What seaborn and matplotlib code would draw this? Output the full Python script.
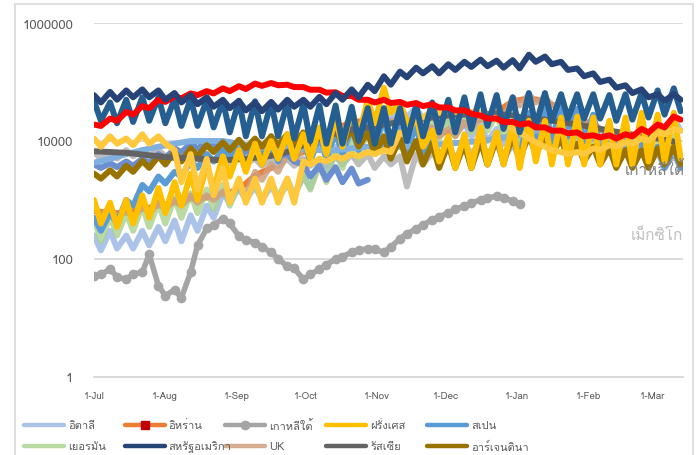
import numpy as np
import pandas as pd
import seaborn as sns
import matplotlib.pyplot as plt
import matplotlib.dates as mdates
from matplotlib import font_manager
from matplotlib.ft2font import FT2Font
from matplotlib.lines import Line2D
from matplotlib.patches import Rectangle
from matplotlib.ticker import FixedLocator, FixedFormatter, NullLocator

# daily new cases, in thousands (korea in plain cases)
# *_hi = value at the start of each week, *_lo = value three days later
weeks = pd.date_range('2020-07-01', periods=37, freq='7D')

us_hi = [60, 68, 72, 75, 72, 65, 60, 55, 50, 48, 45, 46, 50, 50, 56, 65, 75, 90, 125, 150,
         175, 185, 200, 220, 240, 230, 235, 290, 270, 220, 170, 140, 110, 88, 75, 62, 62]
us_lo = [45, 50, 55, 55, 50, 45, 42, 38, 36, 33, 32, 34, 38, 38, 42, 50, 55, 70, 90, 120,
         140, 140, 160, 180, 185, 175, 170, 220, 200, 160, 125, 100, 80, 65, 55, 48, 50]
india_hi = [19, 24, 31, 39, 50, 57, 64, 70, 78, 85, 94, 96, 90, 82, 74, 67, 58, 50, 50, 46,
            44, 42, 37, 33, 27, 24, 21, 20, 17, 15, 14, 12.5, 12.5, 13, 16, 19, 26]
india_lo = [18, 22, 28, 36, 46, 53, 60, 64, 70, 76, 86, 88, 82, 74, 66, 58, 50, 45, 44, 41,
            39, 37, 33, 29, 24, 21, 19, 17, 15, 13.5, 12, 11.5, 11, 12, 14, 17, 23]
brazil_hi = [48, 45, 50, 55, 55, 52, 52, 50, 48, 48, 47, 45, 44, 42, 40, 40, 38, 36, 36, 36,
             40, 45, 50, 55, 62, 60, 55, 65, 65, 62, 62, 62, 60, 62, 65, 72, 78]
brazil_lo = [22, 20, 21, 22, 20, 18, 18, 17, 14, 12, 12, 12, 11, 10, 9, 9, 10, 9, 9, 10,
             12, 14, 14, 16, 18, 16, 14, 18, 22, 24, 24, 24, 22, 23, 25, 28, 32]
france_hi = [1.0, 0.9, 1.0, 1.2, 1.6, 2.0, 2.8, 4.0, 5.5, 7.0, 9, 10, 13, 13, 17, 25, 35, 50, 80, 45,
             28, 15, 12, 13, 17, 14, 20, 22, 22, 25, 26, 25, 22, 25, 30, 28, 30]
france_lo = [0.4, 0.35, 0.4, 0.5, 0.6, 0.8, 1.0, 1.5, 2.5, 3.0, 4, 5, 5, 5, 6, 8, 12, 20, 30, 20,
             8, 4.5, 3.5, 3.5, 4, 4, 3.5, 4.5, 4, 4, 4, 4, 4, 4, 4.5, 4.5, 5]
yellow_hi = [11, 12, 11, 13, 12, 7, 6, 5, 3.5, 2.3, 2.3, 2.3, 2.3, 4.5, 5, 5.5, 6, 6.5, 7, 14,
             28, 32, 33, 33, 30, 24, 16, 11, 8, 6.5, 6.5, 7.5, 8.5, 9.5, 11, 14, 16]
yellow_lo = [8, 9, 8.5, 9, 9, 2, 1.5, 1.2, 0.9, 0.9, 0.9, 0.9, 0.9, 4, 4.5, 5, 5.5, 6, 6.5, 12,
             25, 30, 31, 31, 27, 20, 14, 9.5, 7, 6, 6, 7, 8, 9, 10, 13, 15]
korea_hi = [51, 67, 45, 60, 35, 30, 60, 330, 480, 245, 190, 130, 76, 45, 67, 100, 130, 150, 130, 220,
            320, 460, 600, 780, 1000, 1150, 950] + [None] * 10
korea_lo = [55, 50, 55, 120, 24, 22, 170, 380, 400, 210, 160, 100, 70, 55, 80, 110, 140, 145, 160, 270,
            380, 520, 700, 900, 1100, 1100, 850] + [None] * 10
russia = [6.7, 6.5, 6.3, 5.9, 5.5, 5.2, 5.1, 4.9, 4.7, 4.9, 5.2, 5.6, 6.5, 8.5, 11, 13.5, 15.5, 17, 19, 21,
          23, 25, 27, 28, 28, 29, 27, 24, 23, 21, 19, 17, 15, 13.5, 12, 11, 9.8]
argentina_hi = [2.8, 3.2, 3.8, 4.6, 5.5, 6.5, 7.5, 8.5, 9.5, 10.5, 11, 12, 13, 14, 15, 16, 16, 14, 12, 11,
                10, 9, 9, 9, 10, 11, 12, 13, 12, 11, 9, 8, 7.5, 7, 7, 7.5, 8]
argentina_lo = [2.3, 2.5, 3.0, 3.5, 4.0, 4.5, 5.5, 6.5, 7, 7.5, 8, 8.5, 9, 9, 10, 9, 8, 6, 5, 4.5,
                4, 3.5, 3.5, 3.5, 4, 4.5, 5, 6, 6, 5, 4.5, 4, 3.5, 3.5, 3.5, 4, 4]
lightblue = [4.3, 5, 6, 7, 8, 9, 10, 10, 10, 9, 8, 7.5, 7.5, 7.5, 7, 7, 7.5, 8, 8, 8,
             8, 8.5, 9, 9.5, 10, 11, 12, 14, 16, 15, 13, 11, 9, 8, 7, 6.5, 6]
periwinkle_hi = [4.0, 4.2, 4.5, 5, 6, 7.5, 9, 9.5, 9, 8, 7.5, 7, 6, 4, 3.8, 3.6, 3.4, 2.2] + [None] * 19
periwinkle_lo = [3.5, 3.6, 3.8, 4.2, 5, 6.5, 7.5, 8, 7.5, 6.5, 6, 5.5, 4.5, 2.5, 2.2, 2.0, 1.9] + [None] * 20
spain_hi = [0.5, 0.6, 1.0, 1.8, 2.5, 3.0, 4.5, 6.0, 7.0, 9.0, 10, 12, 12, 11, 12, 14, 18, 22, 25, 22,
            18, 14, 10, 9, 12, 12, 15, 30, 40, 40, 35, 28, 20, 15, 10, 8, 7]
spain_lo = [0.3, 0.4, 0.8, 1.4, 1.9, 2.5, 3.5, 4.5, 5.5, 3.5, 4, 4.5, 5, 4.5, 5, 6, 7, 8, 8, 7,
            6, 5, 4, 3.5, 4, 4, 5, 8, 10, 12, 10, 8, 6, 5, 4, 3.5, 3.5]
germany_hi = [0.5, 0.55, 0.6, 0.8, 0.9, 1.1, 1.3, 1.5, 1.8, 1.9, 2.0, 2.1, 2.3, 2.7, 4, 7, 11, 16, 20, 22,
              24, 22, 23, 26, 30, 28, 22, 25, 22, 18, 15, 12, 10, 9, 10, 11, 12]
germany_lo = [0.2, 0.25, 0.3, 0.35, 0.4, 0.5, 0.6, 0.7, 0.8, 1.0, 1.0, 1.1, 1.2, 1.5, 2, 3.5, 5, 8, 11, 12,
              12, 11, 12, 14, 15, 13, 10, 11, 10, 8, 6, 5, 4.5, 4, 4.5, 5, 5]
italy_hi = [0.25, 0.3, 0.25, 0.3, 0.35, 0.45, 0.55, 0.8, 1.3, 1.6, 1.7, 1.7, 1.8, 2.5, 4.5, 8, 15, 25, 35, 38,
            37, 28, 24, 20, 18, 16, 18, 22, 16, 14, 13, 14, 14, 14, 17, 22, 24]
italy_lo = [0.14, 0.15, 0.15, 0.17, 0.2, 0.2, 0.3, 0.5, 0.9, 1.0, 1.0, 1.1, 1.2, 1.6, 2.5, 5, 9, 17, 22, 25,
            23, 17, 13, 12, 10, 9, 10, 12, 9, 8, 8, 8, 8, 9, 11, 14, 15]
uk_hi = [0.8, 0.75, 0.7, 0.8, 0.9, 1.0, 1.2, 1.2, 1.4, 1.8, 3, 4, 6, 7.5, 14, 18, 24, 25, 27, 25,
         24, 17, 16, 21, 27, 37, 55, 62, 55, 40, 28, 22, 15, 12, 9, 7, 6]
uk_lo = [0.55, 0.5, 0.5, 0.6, 0.7, 0.8, 0.9, 1.0, 1.1, 1.2, 2.2, 3, 4.5, 5.5, 11, 14, 18, 19, 20, 20,
         17, 12, 12, 16, 19, 25, 40, 45, 40, 30, 20, 15, 11, 9, 6.5, 5, 4.5]
mexico_hi = [6.5, 6.5, 7, 7, 7, 6.5, 6.5, 6, 5.5, 5.5, 5, 5, 5, 5, 5, 5.5, 6, 6, 5.5, 5.5,
             6, 6.5, 8, 9, 9.5, 9, 9, 12, 14, 15, 14, 12, 10, 8, 7, 6.5, 6]
mexico_lo = [5, 5, 5.5, 5.5, 5.5, 5, 5, 4.5, 4.2, 4.2, 3.8, 3.8, 3.8, 3.8, 3.8, 4, 4, 3.5, 4, 1.7,
             4, 4.5, 5, 6, 6, 5, 5, 7, 8, 9, 8, 7, 5, 4.5, 4, 3.5, 3.5]
# iran hardly shows: it runs just under the uk line
iran = [0.65, 0.6, 0.6, 0.7, 0.8, 0.9, 1.05, 1.1, 1.25, 1.5, 2.6, 3.5, 5.2, 6.5, 12, 16, 21, 22, 23, 22,
        20, 14.5, 14, 18.5, 23, 31, 47, 53, 47, 35, 24, 18.5, 13, 10.5, 7.8, 6, 5.2]

legend_names = ['อิตาลี', 'อิหร่าน', 'เกาหลีใต้', 'ฝรั่งเศส', 'สเปน',
                'เยอรมัน', 'สหรัฐอเมริกา', 'UK', 'รัสเซีย', 'อาร์เจนตินา']
ytick_vals = [1, 100, 10000, 1000000]


def thai_font():
    for f in font_manager.fontManager.ttflist:
        if f.weight not in (400, 'normal', 'regular') or f.style != 'normal':
            continue
        try:
            if 0x0E01 in FT2Font(f.fname).get_charmap():
                return f.name
        except Exception:
            continue
    return None


def series(hi, lo=None, scale=1000):
    df = pd.DataFrame({'date': weeks, 'cases': hi})
    if lo is not None:
        df = pd.concat([df, pd.DataFrame({'date': weeks + pd.Timedelta(days=3), 'cases': lo})])
    df = df.dropna().sort_values('date')
    df['cases'] = df['cases'].astype(float) * scale
    return df


sns.set_style('white')
tf = thai_font()
plt.rcParams['font.family'] = [tf, 'DejaVu Sans'] if tf else ['DejaVu Sans']

fig = plt.figure(figsize=(6.99, 4.56), dpi=100)
ax = fig.add_axes([94 / 699, 1 - 378 / 456, (683 - 94) / 699, (378 - 24) / 456])

# (data, colour, alpha) drawn bottom to top
lines = [
    (series(iran), '#ED7D31', 1.0),
    (series(mexico_hi, mexico_lo), '#BDBDBD', 1.0),
    (series(italy_hi, italy_lo), '#9DB9E6', 0.85),
    (series(germany_hi, germany_lo), '#A9D18E', 0.8),
    (series(uk_hi, uk_lo), '#CF9F7E', 0.85),
    (series(spain_hi, spain_lo), '#5B9BD5', 1.0),
    (series(periwinkle_hi, periwinkle_lo), '#6A8ED0', 1.0),
    (series(lightblue), '#7FB0DF', 1.0),
    (series(argentina_hi, argentina_lo), '#997300', 1.0),
    (series(russia), '#636363', 1.0),
    (series(france_hi, france_lo), '#FFC000', 1.0),
    (series(yellow_hi, yellow_lo), '#FFC83D', 1.0),
    (series(brazil_hi, brazil_lo), '#255E91', 1.0),
    (series(india_hi, india_lo), '#FF0000', 1.0),
    (series(us_hi, us_lo), '#264478', 1.0),
]
for z, (df, c, a) in enumerate(lines):
    sns.lineplot(data=df, x='date', y='cases', ax=ax, color=c, alpha=a, lw=4.3,
                 estimator=None, sort=False, zorder=2 + z,
                 solid_joinstyle='round', solid_capstyle='round')

sns.lineplot(data=series(korea_hi, korea_lo, scale=1), x='date', y='cases', ax=ax,
             color='#A5A5A5', lw=4.0, marker='o', markersize=7, markeredgewidth=0,
             estimator=None, sort=False, zorder=30, solid_joinstyle='round')

ax.set_yscale('log')
ax.set_ylim(1, 1e6)
ax.set_xlim(pd.Timestamp('2020-07-01'), pd.Timestamp('2021-03-14'))
ax.yaxis.set_major_locator(FixedLocator(ytick_vals))
ax.yaxis.set_major_formatter(FixedFormatter([str(v) for v in ytick_vals]))
ax.yaxis.set_minor_locator(NullLocator())
ax.xaxis.set_major_locator(mdates.MonthLocator())
ax.xaxis.set_major_formatter(mdates.DateFormatter('%-d-%b'))
ax.tick_params(axis='y', length=0, pad=15, labelsize=9.5, labelcolor='#595959')
ax.tick_params(axis='x', direction='in', length=4, width=1, color='#D9D9D9',
               pad=10, labelsize=7, labelcolor='#595959')
ax.grid(axis='y', color='#D9D9D9', lw=1.3)
ax.grid(axis='x', visible=False)
ax.set_axisbelow(True)
for s in ['top', 'left', 'right']:
    ax.spines[s].set_visible(False)
ax.spines['bottom'].set_color('#D9D9D9')
ax.spines['bottom'].set_linewidth(1.3)
ax.set_xlabel('')
ax.set_ylabel('')

# end-of-line data labels
ax.text(1.003, 3400, 'เกาหลีใต้', transform=ax.get_yaxis_transform(), ha='right', va='center',
        fontsize=11, color='#7F7F7F', zorder=40)
ax.text(1.0, 260, 'เม็กซิโก', transform=ax.get_yaxis_transform(), ha='right', va='center',
        fontsize=11, color='#BFBFBF', zorder=40)

# legend drawn by hand so the columns sit at even spacing
leg_style = [('#9DB9E6', 0.85, None), ('#ED7D31', 1.0, 's'), ('#A5A5A5', 1.0, 'o'),
             ('#FFC000', 1.0, None), ('#5B9BD5', 1.0, None), ('#A9D18E', 0.8, None),
             ('#264478', 1.0, None), ('#CF9F7E', 0.85, None), ('#636363', 1.0, None),
             ('#997300', 1.0, None)]
for i, (name, (c, a, m)) in enumerate(zip(legend_names, leg_style)):
    col, row = i % 5, i // 5
    x0 = 24 + col * 100.7
    y = 1 - (426 + row * 21) / 456
    fig.add_artist(Line2D([x0 / 699, (x0 + 40) / 699], [y, y], color=c, alpha=a, lw=3.2,
                          solid_capstyle='round', transform=fig.transFigure))
    if m == 's':
        fig.add_artist(Line2D([(x0 + 20) / 699], [y], marker='s', markersize=6, color='#C00000',
                              transform=fig.transFigure))
    elif m == 'o':
        fig.add_artist(Line2D([(x0 + 20) / 699], [y], marker='o', markersize=6, color=c,
                              transform=fig.transFigure))
    fig.text((x0 + 44) / 699, y, name, ha='left', va='center', fontsize=8, color='#595959')

fig.add_artist(Rectangle((15 / 699, -0.05), (693 - 15) / 699, 1.05 - 5 / 456, fill=False,
                         edgecolor='#D9D9D9', lw=1.2, transform=fig.transFigure))

fig.savefig('out.png', dpi=100)
plt.close(fig)
